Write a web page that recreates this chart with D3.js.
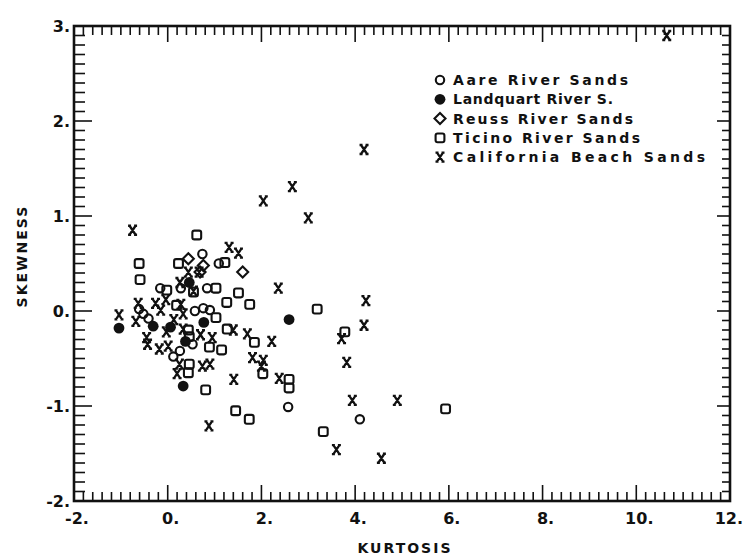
<!DOCTYPE html>
<html><head><meta charset="utf-8">
<script src="https://cdn.jsdelivr.net/npm/d3@7"></script>
<style>
html,body{margin:0;padding:0;background:#fff;}
svg text{font-family:"DejaVu Sans",sans-serif;font-weight:bold;fill:#111;}
</style></head>
<body>
<svg id="c" width="745" height="558"></svg>
<script>
// ---- data (kurtosis, skewness) ----
const aareK = [2.57, 4.10, 0.74, 1.09, 0.84, 0.28, -0.16, -0.61, -0.52, -0.41, 0.58, 0.76, 0.90, 0.53, 0.26, 0.12];
const aareS = [-1.01, -1.14, 0.60, 0.50, 0.24, 0.24, 0.24, 0.02, -0.03, -0.08, 0.00, 0.03, 0.01, -0.35, -0.42, -0.48];

const landK = [-1.04, -0.31, 0.06, 0.77, 0.33, 0.46, 2.59, 0.38];
const landS = [-0.18, -0.16, -0.17, -0.12, -0.79, 0.30, -0.09, -0.32];

const reussK = [0.44, 0.69, 1.60, 0.76];
const reussS = [0.55, 0.41, 0.41, 0.48];

const ticinoK = [-0.61, -0.59, 0.62, 0.23, 1.22, 1.03, -0.02, 0.55, 1.51, 1.75, 3.19, 1.26, 0.19, 1.03, 1.27, 0.44, 0.46, 0.89, 1.15, 0.46, 0.44, 0.81, 1.85, 2.03, 2.59, 2.59, 1.45, 1.74, 3.32, 3.78, 5.93];
const ticinoS = [0.50, 0.33, 0.80, 0.50, 0.51, 0.24, 0.22, 0.20, 0.19, 0.07, 0.02, 0.09, 0.06, -0.07, -0.19, -0.20, -0.27, -0.38, -0.41, -0.56, -0.65, -0.83, -0.33, -0.66, -0.72, -0.81, -1.05, -1.14, -1.27, -0.22, -1.03];

const califK = [10.65, 4.19, 2.66, 2.04, 3.00, -0.75, 1.31, 1.51, 2.36, 4.23, 4.19, 3.71, 3.82, 3.94, 4.90, 3.60, 4.56, 0.88, 1.40, 1.70, 2.22, 1.81, 2.04, 2.00, 1.41, 2.38, -1.04, -0.68, -0.63, -0.26, -0.15, -0.04, -0.45, -0.43, -0.18, 0.01, -0.03, 0.33, 0.13, 0.33, 0.70, 0.95, 0.25, 0.20, 0.74, 0.90, 0.44, 0.26, 0.67, 0.55, 0.28];
const califS = [2.90, 1.70, 1.31, 1.16, 0.98, 0.85, 0.67, 0.61, 0.24, 0.11, -0.15, -0.29, -0.54, -0.94, -0.94, -1.46, -1.55, -1.21, -0.20, -0.24, -0.32, -0.49, -0.52, -0.58, -0.72, -0.71, -0.04, -0.11, 0.08, 0.08, 0.01, 0.12, -0.28, -0.35, -0.40, -0.37, -0.22, -0.03, -0.09, -0.19, -0.25, -0.28, -0.56, -0.66, -0.58, -0.56, 0.41, 0.30, 0.41, 0.21, 0.07];

const xTickValues = [-2, 0, 2, 4, 6, 8, 10, 12];
const xTickLabels = ["-2.", "0.", "2.", "4.", "6.", "8.", "10.", "12."];
const yTickValues = [-2, -1, 0, 1, 2, 3];
const yTickLabels = ["-2.", "-1.", "0.", "1.", "2.", "3."];
const legendNames = ["Aare River Sands", "Landquart River S.", "Reuss River Sands", "Ticino River Sands", "California Beach Sands"];
const legendTypes = ["circle", "filled", "diamond", "square", "cross"];

// ---- layout ----
const L = 74, R = 730, T = 26, B = 501;
const svg = d3.select("#c");
const x = d3.scaleLinear().domain([-2, 12]).range([L, R]);
const y = d3.scaleLinear().domain([-2, 3]).range([B, T]);
const ink = "#111";

// ticks
const xMinor = d3.range(-2, 12.001, 0.2).map(v => +v.toFixed(2));
const yMinor = d3.range(-2, 3.001, 0.1).map(v => +v.toFixed(2));
const isMajX = v => Math.abs(v / 2 - Math.round(v / 2)) < 1e-6;
const isMajY = v => Math.abs(v - Math.round(v)) < 1e-6;

const tg = svg.append("g").attr("stroke", ink).attr("stroke-width", 1.6);
xMinor.forEach(v => {
  const len = isMajX(v) ? 16 : 9;
  tg.append("line").attr("x1", x(v)).attr("x2", x(v)).attr("y1", B).attr("y2", B - len);
  tg.append("line").attr("x1", x(v)).attr("x2", x(v)).attr("y1", T).attr("y2", T + len);
});
yMinor.forEach(v => {
  const lenL = isMajY(v) ? 18 : 11;
  const lenR = isMajY(v) ? 13 : 8;
  tg.append("line").attr("x1", L).attr("x2", L + lenL).attr("y1", y(v)).attr("y2", y(v));
  tg.append("line").attr("x1", R).attr("x2", R - lenR).attr("y1", y(v)).attr("y2", y(v));
});

// frame
svg.append("rect").attr("x", L).attr("y", T).attr("width", R - L).attr("height", B - T)
  .attr("fill", "none").attr("stroke", ink).attr("stroke-width", 2.6);

// tick labels
xTickValues.forEach((v, i) => {
  const last = i === xTickValues.length - 1;
  svg.append("text").attr("x", last ? 743 : x(v) + 3).attr("y", 524)
    .attr("text-anchor", last ? "end" : "middle")
    .attr("font-size", 16).attr("font-weight", "normal").text(xTickLabels[i]);
});
yTickValues.forEach((v, i) => {
  svg.append("text").attr("x", 70).attr("y", y(v) + 6).attr("text-anchor", "end")
    .attr("font-size", 16).attr("font-weight", "normal").text(yTickLabels[i]);
});

// axis titles
svg.append("text").attr("x", 405).attr("y", 553).attr("text-anchor", "middle")
  .attr("font-size", 14).attr("letter-spacing", 2).text("KURTOSIS");
svg.append("text").attr("transform", "translate(27,256) rotate(-90)").attr("text-anchor", "middle")
  .attr("font-size", 14).attr("letter-spacing", 2).text("SKEWNESS");

// markers
function drawMarker(g, type, cx, cy) {
  if (type === "circle") {
    g.append("circle").attr("cx", cx).attr("cy", cy).attr("r", 4.2).attr("fill", "none").attr("stroke", ink).attr("stroke-width", 2.1);
  } else if (type === "filled") {
    g.append("circle").attr("cx", cx).attr("cy", cy).attr("r", 5.4).attr("fill", ink);
  } else if (type === "diamond") {
    g.append("path").attr("d", `M${cx},${cy-5.5}L${cx+5.5},${cy}L${cx},${cy+5.5}L${cx-5.5},${cy}Z`)
      .attr("fill", "none").attr("stroke", ink).attr("stroke-width", 2.1);
  } else if (type === "square") {
    g.append("rect").attr("x", cx - 4.4).attr("y", cy - 4.4).attr("width", 8.8).attr("height", 8.8).attr("rx", 2)
      .attr("fill", "none").attr("stroke", ink).attr("stroke-width", 2.1);
  } else {
    g.append("path").attr("d", `M${cx-3},${cy-4.5}L${cx+3},${cy+4.5}M${cx+3},${cy-4.5}L${cx-3},${cy+4.5}M${cx-4.5},${cy-4.5}H${cx-1.5}M${cx+1.5},${cy+4.5}H${cx+4.5}M${cx+1.5},${cy-4.5}H${cx+4.5}M${cx-4.5},${cy+4.5}H${cx-1.5}`)
      .attr("fill", "none").attr("stroke", ink).attr("stroke-width", 2.3);
  }
}
const pg = svg.append("g");
const seriesList = [
  [ticinoK, ticinoS, "square"], [aareK, aareS, "circle"], [reussK, reussS, "diamond"],
  [califK, califS, "cross"], [landK, landS, "filled"]
];
seriesList.forEach(([ks, ss, t]) => ks.forEach((k, i) => drawMarker(pg, t, x(k), y(ss[i]))));

// legend
const legendWidths = [175, 160, 180, 187, 252];
const lg = svg.append("g");
legendNames.forEach((n, i) => {
  const yy = 80 + i * 19.3;
  drawMarker(lg, legendTypes[i], 440, yy);
  lg.append("text").attr("x", 453).attr("y", yy + 5).attr("font-size", 14)
    .attr("textLength", legendWidths[i]).attr("lengthAdjust", "spacing").text(n);
});
</script>
</body></html>
